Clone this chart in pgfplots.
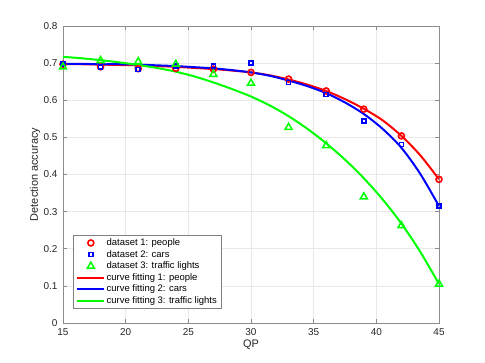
\documentclass[border=0pt]{standalone}
\usepackage{fontspec}
\setmainfont{Liberation Sans}
\usepackage{pgfplots}
\pgfplotsset{compat=1.18}

\definecolor{mred}{RGB}{255,0,0}
\definecolor{mblue}{RGB}{0,0,255}
\definecolor{mgreen}{RGB}{0,255,0}

\pgfplotsset{
  longlegend/.style={legend image code/.code={\draw[mark repeat=2,mark phase=2,##1] plot coordinates {(0bp,0bp) (13.5bp,0bp) (27bp,0bp)};}},
}

\begin{document}
\begin{tikzpicture}
\path[use as bounding box, fill=white] (-63bp,-40bp) rectangle (422bp,323bp);
\begin{axis}[
  at={(0,0)}, anchor=south west,
  scale only axis,
  width=376bp, height=297bp,
  xmin=15, xmax=45, ymin=0, ymax=0.8,
  xtick={15,20,25,30,35,40,45},
  ytick={0,0.1,0.2,0.3,0.4,0.5,0.6,0.7,0.8},
  yticklabels={0,0.1,0.2,0.3,0.4,0.5,0.6,0.7,0.8},
  /pgf/number format/assume math mode=true,
  ticklabel style={font=\fontsize{10}{12}\selectfont, text=black!85},
  xlabel={QP}, ylabel={Detection accuracy},
  label style={font=\fontsize{11}{13}\selectfont, text=black!85},
  xlabel style={at={(axis description cs:0.5,0)}, anchor=center, yshift=-22bp},
  ylabel style={at={(axis description cs:0,0.5)}, anchor=center, yshift=28bp},
  xticklabel style={yshift=-2bp},
  yticklabel style={xshift=-2bp},
  grid=major,
  major grid style={draw=black!9, line width=0.6bp},
  axis line style={draw=black!45, line width=0.7bp},
  tick style={draw=black!45, line width=0.6bp},
  tick align=inside, major tick length=4bp,
  legend cell align=left,
  legend style={
    at={(rel axis cs:0.027,0.049)}, anchor=south west,
    draw=black!50, fill=white,
    font=\fontsize{9.5}{11}\selectfont,
    inner xsep=3bp, inner ysep=1.5bp,
    nodes={inner sep=1.3bp, text height=7bp, text depth=2bp},
  },
]
% datasets (markers)
\addplot[only marks, color=mred, mark=o, mark size=3bp, line width=1.6bp, longlegend]
coordinates {(15,0.697) (18,0.690) (21,0.685) (24,0.686) (27,0.684) (30,0.675) (33,0.657) (36,0.625) (39,0.576) (42,0.504) (45,0.387)};
\addlegendentry{dataset 1: people}
\addplot[only marks, color=mblue, mark=square, mark size=2bp, line width=1.6bp, longlegend]
coordinates {(15,0.697) (18,0.690) (21,0.683) (24,0.692) (27,0.692) (30,0.701) (33,0.648) (36,0.616) (39,0.544) (42,0.481) (45,0.315)};
\addlegendentry{dataset 2: cars}
\addplot[only marks, color=mgreen, mark=triangle, mark size=4bp, line width=1.5bp, longlegend]
coordinates {(15,0.690) (18,0.707) (21,0.704) (24,0.697) (27,0.670) (30,0.646) (33,0.527) (36,0.478) (39,0.340) (42,0.262) (45,0.105)};
\addlegendentry{dataset 3: traffic lights}
% fitted curves
\addplot[color=mred, line width=2bp, smooth, no marks, longlegend]
coordinates {(15,0.697) (16.5,0.697) (18,0.696) (19.5,0.695) (21,0.694) (22.5,0.692) (24,0.690) (25.5,0.687) (27,0.684) (28.5,0.680) (30,0.675) (31.5,0.667) (33,0.656) (34.5,0.642) (36,0.625) (37.5,0.603) (39,0.577) (40.5,0.546) (42,0.504) (43.5,0.452) (45,0.387)};
\addlegendentry{curve fitting 1: people}
\addplot[color=mblue, line width=2bp, smooth, no marks, longlegend]
coordinates {(15,0.698) (16.5,0.698) (18,0.697) (19.5,0.697) (21,0.696) (22.5,0.694) (24,0.692) (25.5,0.689) (27,0.686) (28.5,0.681) (30,0.675) (31.5,0.666) (33,0.653) (34.5,0.638) (36,0.619) (37.5,0.594) (39,0.563) (40.5,0.523) (42,0.472) (43.5,0.402) (45,0.315)};
\addlegendentry{curve fitting 2: cars}
\addplot[color=mgreen, line width=2bp, smooth, no marks, longlegend]
coordinates {(15,0.717) (16.5,0.713) (18,0.708) (19.5,0.702) (21,0.695) (22.5,0.687) (24,0.677) (25.5,0.664) (27,0.648) (28.5,0.630) (30,0.610) (31.5,0.586) (33,0.557) (34.5,0.523) (36,0.484) (37.5,0.440) (39,0.390) (40.5,0.333) (42,0.268) (43.5,0.192) (45,0.105)};
\addlegendentry{curve fitting 3: traffic lights}
\end{axis}
\end{tikzpicture}
\end{document}
